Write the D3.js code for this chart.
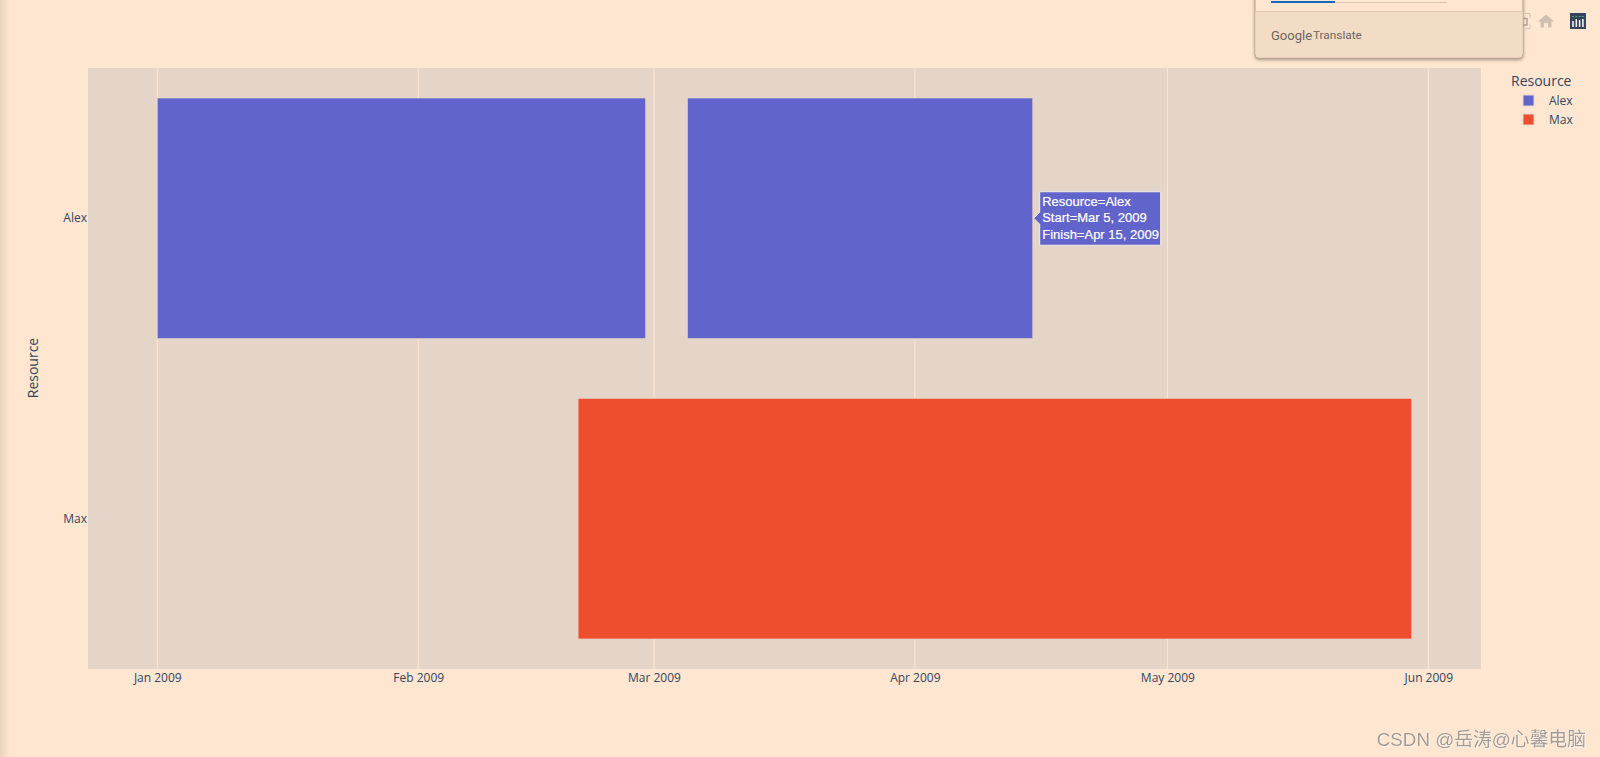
<!DOCTYPE html>
<meta charset="utf-8">
<style>
    html, body { margin: 0; padding: 0; background: #ffe6d0; }
    svg { display: block; font-family: "Open Sans", sans-serif; }
    .axis path { display: none; }
    .axis line { display: none; }
    .axis text { font-family: "Open Sans", sans-serif; font-size: 12px; fill: #34445f; }
</style>
<body>
<script src="https://d3js.org/d3.v7.min.js"></script>
<script>
    const resources = ["Alex", "Max"];
    const colors = ["#6164ca", "#ee4d2e"];
    const starts = ["2009-01-01", "2009-03-05", "2009-02-20"];
    const finishes = ["2009-02-28", "2009-04-15", "2009-05-30"];
    const owners = ["Alex", "Alex", "Max"];
    const tickDates = ["2009-01-01", "2009-02-01", "2009-03-01", "2009-04-01", "2009-05-01", "2009-06-01"];
    const hoverLines = ["Resource=Alex", "Start=Mar 5, 2009", "Finish=Apr 15, 2009"];

    const parse = d3.utcParse("%Y-%m-%d");
    const width = 1600, height = 757;
    const plot = {left: 88, right: 1481, top: 68, bottom: 669};

    const svg = d3.select("body").append("svg")
        .attr("width", width)
        .attr("height", height);

    // soft shadow strip on the left edge of the screenshot
    const defs = svg.append("defs");
    const edge = defs.append("linearGradient").attr("id", "edge");
    edge.append("stop").attr("offset", "0%").attr("stop-color", "#e8d2bd");
    edge.append("stop").attr("offset", "100%").attr("stop-color", "#ffe6d0");
    svg.append("rect").attr("width", 10).attr("height", height).attr("fill", "url(#edge)");

    const popupShadow = defs.append("filter").attr("id", "popupShadow")
        .attr("x", "-5%").attr("y", "-5%").attr("width", "110%").attr("height", "120%");
    popupShadow.append("feDropShadow")
        .attr("dx", 0).attr("dy", 1.5).attr("stdDeviation", 1.5)
        .attr("flood-color", "#6b5d50").attr("flood-opacity", 0.6);

    const markShadow = defs.append("filter").attr("id", "markShadow");
    markShadow.append("feDropShadow")
        .attr("dx", 0.6).attr("dy", 0.6).attr("stdDeviation", 0.3)
        .attr("flood-color", "#ffffff").attr("flood-opacity", 0.8);

    // x is fixed by the two known gridlines, Jan 1 at 157.3 and Jun 1 at 1428.3
    const x = d3.scaleUtc()
        .domain([parse(tickDates[0]), parse(tickDates[5])])
        .range([157.3, 1428.3]);
    const y = d3.scaleBand()
        .domain(resources)
        .range([plot.top, plot.bottom])
        .paddingInner(0.2)
        .paddingOuter(0.1);
    const color = d3.scaleOrdinal().domain(resources).range(colors);

    svg.append("rect")
        .attr("x", plot.left).attr("y", plot.top)
        .attr("width", plot.right - plot.left).attr("height", plot.bottom - plot.top)
        .attr("fill", "#e5d5c8");

    svg.append("g").selectAll("line")
        .data(tickDates)
        .join("line")
        .attr("x1", d => x(parse(d))).attr("x2", d => x(parse(d)))
        .attr("y1", plot.top).attr("y2", plot.bottom)
        .attr("stroke", "#ffe6d0");

    svg.append("g").selectAll("rect")
        .data(owners)
        .join("rect")
        .attr("x", (d, i) => x(parse(starts[i])))
        .attr("y", d => y(d))
        .attr("width", (d, i) => x(parse(finishes[i])) - x(parse(starts[i])))
        .attr("height", y.bandwidth())
        .attr("fill", d => color(d))
        .attr("stroke", "#e5d5c8")
        .attr("stroke-width", 0.5);

    svg.append("g")
        .attr("class", "axis")
        .attr("transform", `translate(0,${plot.bottom})`)
        .call(d3.axisBottom(x)
            .tickValues(tickDates.map(parse))
            .tickFormat(d3.utcFormat("%b %Y"))
            .tickSize(0)
            .tickPadding(1))
        .selectAll("text")
        .attr("dy", "1em");

    svg.append("g")
        .attr("class", "axis")
        .attr("transform", `translate(${plot.left},0)`)
        .call(d3.axisLeft(y).tickSize(0).tickPadding(1));

    svg.append("text")
        .attr("transform", `translate(38,368) rotate(-90)`)
        .attr("text-anchor", "middle")
        .attr("font-size", 14)
        .attr("fill", "#34445f")
        .text("Resource");

    // legend
    const legend = svg.append("g");
    legend.append("text")
        .attr("x", 1511).attr("y", 86)
        .attr("font-size", 14).attr("fill", "#34445f")
        .text("Resource");
    const item = legend.selectAll("g")
        .data(resources)
        .join("g")
        .attr("transform", (d, i) => `translate(0,${95 + i * 19})`);
    item.append("rect")
        .attr("x", 1523).attr("width", 11).attr("height", 11)
        .attr("fill", d => color(d))
        .attr("stroke", "#e5d5c8");
    item.append("text")
        .attr("x", 1549).attr("y", 10)
        .attr("font-size", 12).attr("fill", "#34445f")
        .text(d => d);

    // hover label on the second Alex bar
    const hx = x(parse(finishes[1]));
    const hy = y("Alex") + y.bandwidth() / 2;
    const hover = svg.append("g").attr("transform", `translate(${hx},${hy})`);
    hover.append("path")
        .attr("d", "M1,0 L7,-6 L7,-26.5 L128,-26.5 L128,27 L7,27 L7,6 Z")
        .attr("fill", colors[0])
        .attr("stroke", "#f4ece6");
    hover.selectAll("text")
        .data(hoverLines)
        .join("text")
        .attr("x", 9.5)
        .attr("y", (d, i) => -12.5 + i * 16.7)
        .attr("font-family", "Liberation Sans, Arial, sans-serif")
        .attr("font-size", 13)
        .attr("fill", "#ffffff")
        .attr("stroke", "#ffffff")
        .attr("stroke-width", 0.2)
        .text(d => d);

    // modebar icons
    const bar = svg.append("g");
    bar.append("path")
        .attr("d", "M1525,13.5 H1530 V18.5 M1530,24 V28.5 H1525")
        .attr("fill", "none").attr("stroke", "#d3c3b3").attr("stroke-width", 1);
    bar.append("path")
        .attr("d", "M1523,18.5 h4 v6.5 h-4")
        .attr("fill", "none").attr("stroke", "#b0a497").attr("stroke-width", 1.5);
    bar.append("path")
        .attr("d", "M1546,14.5 L1554,21.5 L1551.5,21.5 L1551.5,27.5 L1548,27.5 L1548,23 L1544,23 L1544,27.5 L1540.5,27.5 L1540.5,21.5 L1538,21.5 Z")
        .attr("fill", "#cfc0b1");
    bar.append("rect")
        .attr("x", 1570).attr("y", 13).attr("width", 16).attr("height", 16)
        .attr("fill", "#36435c");
    bar.selectAll("line.bar")
        .data([0, 1, 2, 3])
        .join("line")
        .attr("class", "bar")
        .attr("x1", d => 1573 + d * 3.3).attr("x2", d => 1573 + d * 3.3)
        .attr("y1", d => [21, 19, 20, 19][d]).attr("y2", 27)
        .attr("stroke", "#ffffff").attr("stroke-width", 1.5);
    bar.selectAll("line.dot")
        .data([0, 1, 2, 3])
        .join("line")
        .attr("class", "dot")
        .attr("x1", d => 1573 + d * 3.3).attr("x2", d => 1573 + d * 3.3)
        .attr("y1", 16).attr("y2", 18)
        .attr("stroke", "#62b89a").attr("stroke-width", 1.5)
        .attr("stroke-dasharray", "1 1");

    // translate popup laid over the chart
    const popup = svg.append("g");
    popup.append("rect")
        .attr("x", 1255).attr("y", -8).attr("width", 268).attr("height", 66).attr("rx", 4)
        .attr("fill", "#ffe6d0").attr("stroke", "#b5a594")
        .attr("filter", "url(#popupShadow)");
    popup.append("path")
        .attr("d", "M1255.5,11.5 H1522.5 V54 a3.5,3.5 0 0 1 -3.5,3.5 H1259 a3.5,3.5 0 0 1 -3.5,-3.5 Z")
        .attr("fill", "#f3dcc6");
    popup.append("line")
        .attr("x1", 1255.5).attr("x2", 1522.5).attr("y1", 11.5).attr("y2", 11.5)
        .attr("stroke", "#e0cbb8");
    popup.append("line")
        .attr("x1", 1271).attr("x2", 1447).attr("y1", 2.5).attr("y2", 2.5)
        .attr("stroke", "#d9c7b6");
    popup.append("line")
        .attr("x1", 1271).attr("x2", 1335).attr("y1", 2).attr("y2", 2)
        .attr("stroke", "#1a66c0").attr("stroke-width", 2);
    popup.append("text")
        .attr("x", 1271).attr("y", 39.5)
        .attr("font-family", "Roboto, sans-serif").attr("font-size", 13).attr("fill", "#6b665f")
        .text("Google");
    popup.append("text")
        .attr("x", 1313).attr("y", 39)
        .attr("font-family", "Roboto, sans-serif").attr("font-size", 11.8).attr("fill", "#6b665f")
        .text("Translate");

    // site watermark
    svg.append("text")
        .attr("x", 1586).attr("y", 746)
        .attr("text-anchor", "end")
        .attr("font-family", "Liberation Sans, Noto Sans CJK SC, sans-serif")
        .attr("font-size", 18.8)
        .attr("fill", "#a29a94")
        .attr("filter", "url(#markShadow)")
        .text("CSDN @岳涛@心馨电脑");
</script>
